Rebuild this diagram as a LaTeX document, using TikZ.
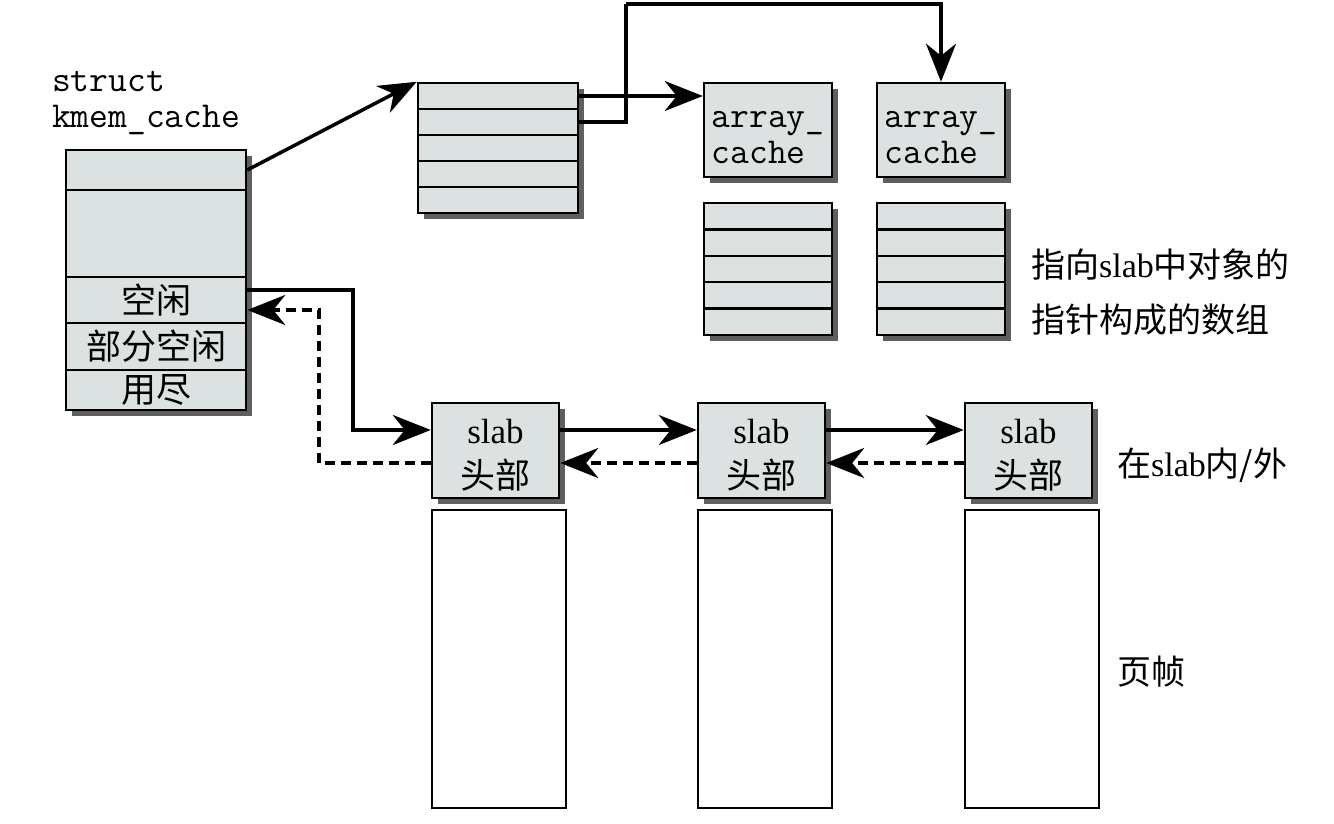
\documentclass[tikz,border=0pt]{standalone}
\usepackage{fontspec}
\setmainfont{Liberation Serif}
\newfontfamily\cjk{Noto Sans CJK SC}
\usetikzlibrary{arrows.meta,shadows}
\definecolor{boxfill}{RGB}{220,225,226}
\definecolor{shade}{RGB}{95,95,95}
\begin{document}
\begin{tikzpicture}[x=1pt,y=-1pt,
  cell/.style={draw=black, line width=2.5pt, fill=boxfill, inner sep=0pt,
    drop shadow={shadow xshift=6pt, shadow yshift=-6pt, fill=shade, opacity=1}},
  frame/.style={draw=black, line width=2pt, fill=white, inner sep=0pt},
  arr/.style={line width=3.5pt, -{Stealth[length=38pt,width=30pt,inset=12pt]}},
  darr/.style={arr, dash pattern=on 10pt off 6pt},
  cjkt/.style={font=\cjk\fontsize{35}{44}\selectfont},
  mono/.style={font=\ttfamily\fontsize{36.5}{36}\selectfont, inner sep=0pt},
  lab/.style={font=\fontsize{34}{40}\selectfont, inner sep=0pt, anchor=west},
  hdr/.style={cell, minimum width=127pt, minimum height=95pt, align=center,
    font=\fontsize{35}{45}\selectfont}]
\useasboundingbox (0,0) rectangle (1334,824);

% struct kmem_cache label
\node[mono, anchor=base west] (t1) at (52,92) {struct};
\node[mono, anchor=base west] (t2) at (52,128) {kmem\_cache};

% struct kmem_cache box
\node[cell, minimum width=180pt, minimum height=40pt] (kc1) at (156,170) {};
\node[cell, minimum width=180pt, minimum height=87pt] (kc2) at (156,233.5) {};
\node[cell, cjkt, minimum width=180pt, minimum height=46pt] (free) at (156,300) {空闲};
\node[cell, cjkt, minimum width=180pt, minimum height=47pt] (part) at (156,346.5) {部分空闲};
\node[cell, cjkt, minimum width=180pt, minimum height=40pt] (full) at (156,390) {用尽};

% per-cpu pointer array
\foreach \i in {1,...,5}
  \node[cell, minimum width=160pt, minimum height=26pt] (p\i) at (498,70+26*\i) {};

% array_cache boxes
\node[cell, mono, minimum width=128pt, minimum height=94pt, align=left] (ac1) at (768,130) {\rule{0pt}{32pt}array\_\\cache};
\node[cell, mono, minimum width=128pt, minimum height=94pt, align=left] (ac2) at (941,130) {\rule{0pt}{32pt}array\_\\cache};

% object pointer arrays
\foreach \i in {0,...,4} {
  \node[cell, minimum width=128pt, minimum height=26.4pt] (pa\i) at (768,216.2+26.4*\i) {};
  \node[cell, minimum width=128pt, minimum height=26.4pt] (pb\i) at (941,216.2+26.4*\i) {};
}

% slab headers
\node[hdr] (h1) at (495.5,450.5) {\rule{0pt}{34pt}slab\\{\cjk 头部}};
\node[hdr] (h2) at (761.5,450.5) {\rule{0pt}{34pt}slab\\{\cjk 头部}};
\node[hdr] (h3) at (1028.5,450.5) {\rule{0pt}{34pt}slab\\{\cjk 头部}};

% page frames
\node[frame, minimum width=134pt, minimum height=298pt] (pg1) at (499,659) {};
\node[frame, minimum width=134pt, minimum height=298pt] (pg2) at (765,659) {};
\node[frame, minimum width=134pt, minimum height=298pt] (pg3) at (1032,659) {};

% labels
\node[lab] (l1) at (1031,265) {{\cjk 指向}slab{\cjk 中对象的}};
\node[lab] (l2) at (1031,320) {{\cjk 指针构成的数组}};
\node[lab] (l3) at (1117,465) {{\cjk 在}slab{\cjk 内/外}};
\node[lab] (l4) at (1117,672) {{\cjk 页帧}};

% connectors
\draw[arr] (kc1.east) -- (p1.north west);
\draw[arr] (p1.east) -- (p1.east -| ac1.west);
\coordinate (top) at (626,4);
\draw[line width=3.5pt] (p2.east) -| (top);
\draw[arr] (top) -| (ac2.north);

\coordinate (c1) at (353,430);
\draw[arr] ([yshift=10pt]free.east) -| (c1) -- ([yshift=20.5pt]h1.west);
\coordinate (c2) at (319,310);
\draw[darr] ([yshift=-12.5pt]h1.west) -| (c2) -- ([yshift=-10pt]free.east);

\draw[arr] ([yshift=20.5pt]h1.east) -- ([yshift=20.5pt]h2.west);
\draw[darr] ([yshift=-12.5pt]h2.west) -- ([yshift=-12.5pt]h1.east);
\draw[arr] ([yshift=20.5pt]h2.east) -- ([yshift=20.5pt]h3.west);
\draw[darr] ([yshift=-12.5pt]h3.west) -- ([yshift=-12.5pt]h2.east);
\end{tikzpicture}
\end{document}
